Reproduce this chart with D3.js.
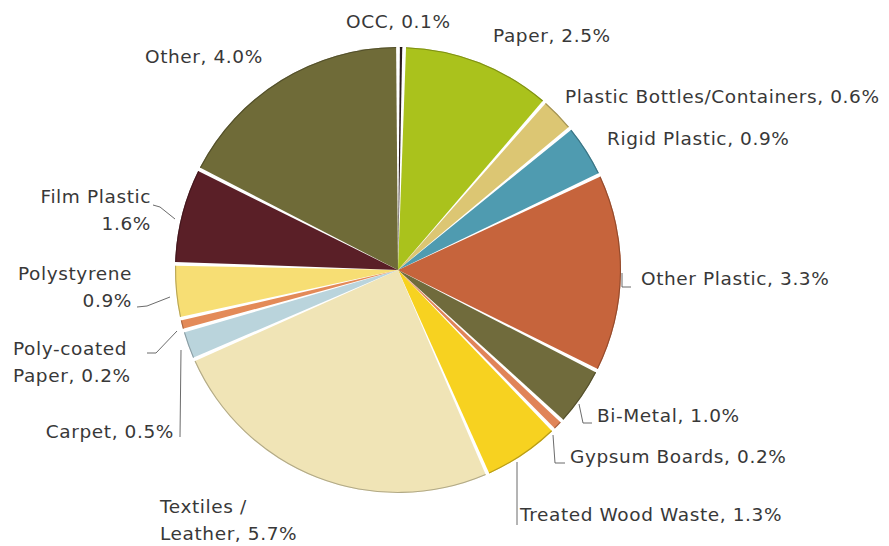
<!DOCTYPE html>
<html>
<head>
<meta charset="utf-8">
<script src="https://cdn.jsdelivr.net/npm/d3@7/dist/d3.min.js"></script>
<style>
  html, body { margin: 0; padding: 0; background: #fff; }
  svg text { font-family: "DejaVu Sans", sans-serif; font-size: 18.5px; letter-spacing: 0.6px; fill: #383838; }
</style>
</head>
<body>
<svg id="chart" width="889" height="546"></svg>
<script>
// Material categories, clockwise from 12 o'clock
const categories = [
  "OCC", "Paper", "Plastic Bottles/Containers", "Rigid Plastic", "Other Plastic",
  "Bi-Metal", "Gypsum Boards", "Treated Wood Waste", "Textiles / Leather",
  "Carpet", "Poly-coated Paper", "Polystyrene", "Film Plastic", "Other"
];
// Share of total (percent)
const shares = [0.1, 2.5, 0.6, 0.9, 3.3, 1.0, 0.2, 1.3, 5.7, 0.5, 0.2, 0.9, 1.6, 4.0];
// Slice colours
const colors = [
  "#2a1c1c", "#aac21c", "#dcc673", "#4f9bb0", "#c6643c",
  "#706b3c", "#e08458", "#f7d220", "#f0e4b6",
  "#bad4dc", "#e38a58", "#f7de74", "#5a1f27", "#6f6b38"
];

// Label text lines, positions and leader routes
const labelLayout = {
  "OCC":                        { lines: ["OCC, 0.1%"], x: 346, y: 28, anchor: "start" },
  "Paper":                      { lines: ["Paper, 2.5%"], x: 493, y: 42, anchor: "start" },
  "Plastic Bottles/Containers": { lines: ["Plastic Bottles/Containers, 0.6%"], x: 565, y: 103, anchor: "start" },
  "Rigid Plastic":              { lines: ["Rigid Plastic, 0.9%"], x: 607, y: 145, anchor: "start" },
  "Other Plastic":              { lines: ["Other Plastic, 3.3%"], x: 641, y: 285, anchor: "start",
                                  leader: [[622, 273], [622, 287], [631, 287]] },
  "Bi-Metal":                   { lines: ["Bi-Metal, 1.0%"], x: 597, y: 422, anchor: "start",
                                  leader: [[579, 404], [583, 423], [592, 423]] },
  "Gypsum Boards":              { lines: ["Gypsum Boards, 0.2%"], x: 570, y: 463, anchor: "start",
                                  leader: [[553, 435], [555, 463], [565, 463]] },
  "Treated Wood Waste":         { lines: ["Treated Wood Waste, 1.3%"], x: 520, y: 521, anchor: "start",
                                  leader: [[517, 462], [517, 525]] },
  "Textiles / Leather":         { lines: ["Textiles /", "Leather, 5.7%"], x: 160, y: 513, anchor: "start" },
  "Carpet":                     { lines: ["Carpet, 0.5%"], x: 174, y: 438, anchor: "end",
                                  leader: [[181, 350], [180, 437]] },
  "Poly-coated Paper":          { lines: ["Poly-coated", "Paper, 0.2%"], x: 13, y: 355, anchor: "start",
                                  leader: [[147, 353], [156, 353], [177, 331]] },
  "Polystyrene":                { lines: ["Polystyrene", "0.9%"], x: 132, y: 280, anchor: "end",
                                  leader: [[137, 307], [147, 306], [170, 297]] },
  "Film Plastic":               { lines: ["Film Plastic", "1.6%"], x: 151, y: 203, anchor: "end",
                                  leader: [[153, 205], [160, 207], [175, 219]] },
  "Other":                      { lines: ["Other, 4.0%"], x: 145, y: 63, anchor: "start" }
};

const svg = d3.select("#chart");
const cx = 398, cy = 270, radius = 223, gap = 3.8;

const data = categories.map((name, i) => ({ name, value: shares[i], color: colors[i] }));

const pie = d3.pie().sort(null).value(d => d.value).startAngle(0).endAngle(2 * Math.PI);
const arcs = pie(data);

const arcFill = d3.arc().innerRadius(0).outerRadius(radius)
  .padAngle(gap / radius).padRadius(radius);
const arcRim = d3.arc().innerRadius(radius - 1.1).outerRadius(radius)
  .padAngle(gap / radius).padRadius(radius);

const g = svg.append("g").attr("transform", `translate(${cx},${cy})`);

g.selectAll("path.slice")
  .data(arcs)
  .join("path")
  .attr("class", "slice")
  .attr("d", arcFill)
  .attr("fill", d => d.data.color);

// thin darker rim along the outer edge of each slice
g.selectAll("path.rim")
  .data(arcs)
  .join("path")
  .attr("class", "rim")
  .attr("d", arcRim)
  .attr("fill", d => d3.color(d.data.color).darker(1.2))
  .attr("opacity", 0.75);

// Leader lines
const line = d3.line();
svg.append("g")
  .selectAll("path")
  .data(categories.filter(c => labelLayout[c].leader))
  .join("path")
  .attr("d", c => line(labelLayout[c].leader))
  .attr("fill", "none")
  .attr("stroke", "#5a5a5a")
  .attr("stroke-width", 0.9);

// Labels
const labels = svg.append("g")
  .selectAll("text")
  .data(categories)
  .join("text")
  .attr("x", c => labelLayout[c].x)
  .attr("y", c => labelLayout[c].y)
  .attr("text-anchor", c => labelLayout[c].anchor);

labels.selectAll("tspan")
  .data(c => labelLayout[c].lines.map((t, i) => ({ t, i, c })))
  .join("tspan")
  .attr("x", d => labelLayout[d.c].x)
  .attr("dy", d => d.i === 0 ? 0 : 27)
  .text(d => d.t);
</script>
</body>
</html>
